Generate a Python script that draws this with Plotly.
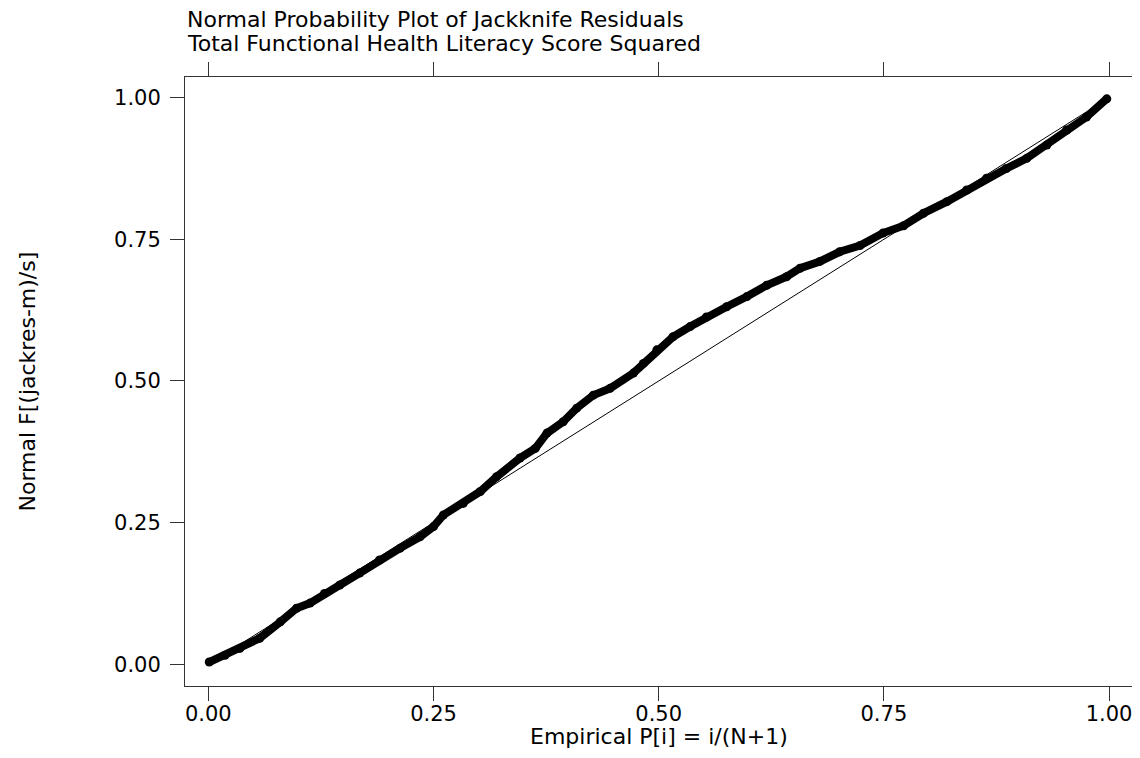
import plotly.graph_objects as go

# Empirical probability P[i] = i/(N+1)
emp_p = [0.001, 0.0185, 0.035, 0.057, 0.080, 0.098, 0.113, 0.129, 0.146, 0.168,
         0.190, 0.213, 0.235, 0.250, 0.261, 0.283, 0.302, 0.320, 0.346, 0.363,
         0.376, 0.394, 0.409, 0.4275, 0.446, 0.472, 0.483, 0.498, 0.516, 0.535,
         0.553, 0.5755, 0.598, 0.620, 0.642, 0.657, 0.679, 0.701, 0.7235, 0.749,
         0.772, 0.794, 0.820, 0.842, 0.864, 0.886, 0.9086, 0.931, 0.953, 0.975,
         0.9975]
# Normal F[(jackres-m)/s]
norm_f = [0.004, 0.016, 0.028, 0.046, 0.075, 0.099, 0.108, 0.125, 0.140, 0.161,
          0.184, 0.205, 0.225, 0.243, 0.2635, 0.284, 0.305, 0.331, 0.364, 0.381,
          0.408, 0.428, 0.452, 0.475, 0.487, 0.514, 0.531, 0.555, 0.578, 0.596,
          0.613, 0.631, 0.649, 0.669, 0.684, 0.699, 0.711, 0.728, 0.739, 0.761,
          0.774, 0.796, 0.8165, 0.837, 0.858, 0.875, 0.893, 0.9165, 0.943, 0.966,
          0.998]
ref_line = [0.0, 1.0]
tick_vals = [0.0, 0.25, 0.5, 0.75, 1.0]
tick_text = ["0.00", "0.25", "0.50", "0.75", "1.00"]

FONT = "DejaVu Sans"

fig = go.Figure()
fig.add_trace(go.Scatter(x=ref_line, y=ref_line, mode="lines",
                         line=dict(color="black", width=1), hoverinfo="skip"))
fig.add_trace(go.Scatter(x=emp_p, y=norm_f, mode="lines+markers",
                         line=dict(color="black", width=8),
                         marker=dict(color="black", size=9)))

axis_common = dict(
    showgrid=False, zeroline=False, showline=True, linecolor="#333", linewidth=1,
    mirror="ticks", ticks="outside", ticklen=14, tickcolor="#333", tickwidth=1,
    tickvals=tick_vals, ticktext=tick_text,
    tickfont=dict(family=FONT, size=21, color="black"),
)
fig.update_xaxes(range=[-0.0259, 1.0255], ticklabelstandoff=-5,
                 ticklabeloverflow="allow", **axis_common)
fig.update_yaxes(range=[-0.0383, 1.0365], ticklabelstandoff=5, **axis_common)

fig.update_layout(
    width=1124, height=742,
    margin=dict(l=177, r=0, t=69, b=64, autoexpand=False),
    paper_bgcolor="white", plot_bgcolor="white",
    showlegend=False,
    font=dict(family=FONT, color="black"),
    annotations=[
        dict(text="Normal Probability Plot of Jackknife Residuals",
             xref="paper", yref="paper", x=0, y=1.0945, xanchor="left",
             yanchor="middle", showarrow=False, font=dict(size=22, family=FONT)),
        dict(text="Total Functional Health Literacy Score Squared",
             xref="paper", yref="paper", x=0, y=1.0555, xanchor="left",
             yanchor="middle", showarrow=False, font=dict(size=22, family=FONT)),
        dict(text="Empirical P[i] = i/(N+1)",
             xref="paper", yref="paper", x=0.5005, y=-0.1049, xanchor="center",
             yanchor="bottom", borderpad=0, showarrow=False,
             font=dict(size=22, family=FONT)),
        dict(text="Normal F[(jackres-m)/s]",
             xref="paper", yref="paper", x=-0.1658, y=0.5, xanchor="center",
             yanchor="middle", textangle=-90, showarrow=False,
             font=dict(size=22, family=FONT)),
    ],
)

fig.write_html("out.html")
